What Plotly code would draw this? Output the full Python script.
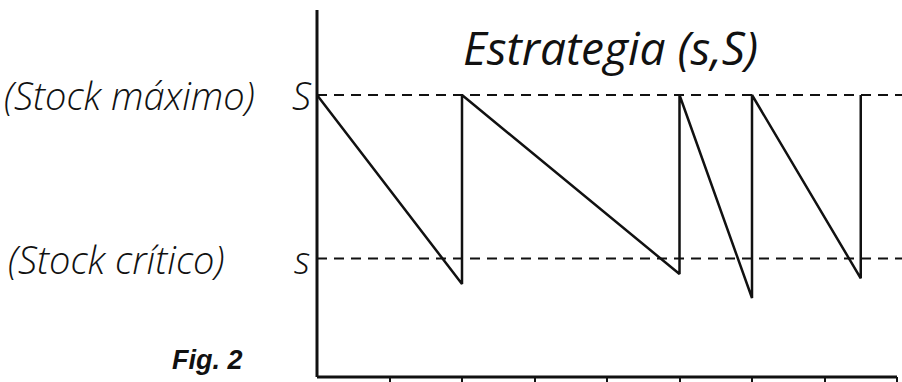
import plotly.graph_objects as go

# Data (time units vs. stock level; S = 100)
time_points = [0, 2, 2, 5, 5, 6, 6, 7.5, 7.5]
stock_levels = [100, 33, 100, 36.5, 100, 28, 100, 35, 100]
S_level = 100
s_level = 42
tick_positions = [0, 1, 2, 3, 4, 5, 6, 7, 8]
title_text = "Estrategia (s,S)"
label_max = "(Stock máximo)"
label_crit = "(Stock crítico)"
fig_label = "Fig. 2"

W, H = 902, 382
x0_px, x8_px = 317, 897
px_per_x = (x8_px - x0_px) / 8
y0_px, yS_px = 377, 95
px_per_y = (y0_px - yS_px) / S_level

x_range = [-x0_px / px_per_x, (W - x0_px) / px_per_x]
y_range = [-(H - y0_px) / px_per_y, y0_px / px_per_y]
y_top = (y0_px - 10) / px_per_y

fig = go.Figure()
fig.add_trace(go.Scatter(x=time_points, y=stock_levels, mode="lines",
                         line=dict(color="#111", width=2.5), showlegend=False,
                         hoverinfo="skip"))

# dashed reference lines
for lvl in [S_level, s_level]:
    fig.add_shape(type="line", xref="x", yref="y", x0=0, x1=x_range[1],
                  y0=lvl, y1=lvl, line=dict(color="#111", width=2, dash="10px,7px"))
# axes lines
fig.add_shape(type="line", xref="x", yref="y", x0=0, x1=tick_positions[-1], y0=0, y1=0,
              line=dict(color="#111", width=3))
fig.add_shape(type="line", xref="x", yref="y", x0=0, x1=0, y0=0, y1=y_top,
              line=dict(color="#111", width=3))

fig.update_xaxes(range=x_range, showgrid=False, zeroline=False, showline=False,
                 tickvals=tick_positions[1:], ticks="inside", ticklen=5, tickwidth=2,
                 tickcolor="#111", showticklabels=False, domain=[0, 1])
fig.update_yaxes(range=y_range, showgrid=False, zeroline=False, showline=False,
                 showticklabels=False, ticks="", domain=[0, 1])

font_main = "Open Sans, Noto Sans, sans-serif"
anns = [
    dict(text=f"<i>{title_text}</i>", x=610 / W, y=(y0_px - 47) / px_per_y,
         xanchor="center", size=46, weight=400),
    dict(text=f"<i>{label_max}</i>", x=2 / W, y=S_level, xanchor="left", size=38, weight=300),
    dict(text="<i>S</i>", x=314 / W, y=S_level, xanchor="right", size=38, weight=300),
    dict(text=f"<i>{label_crit}</i>", x=6 / W, y=s_level, xanchor="left", size=38, weight=300),
    dict(text="<i>s</i>", x=312 / W, y=s_level, xanchor="right", size=38, weight=300),
]
for a in anns:
    fig.add_annotation(text=a["text"], x=a["x"], y=a["y"], xref="paper", yref="y",
                       xanchor=a["xanchor"], yanchor="middle", showarrow=False,
                       font=dict(family=font_main, size=a["size"], color="#111",
                                 weight=a["weight"]))
fig.add_annotation(text=f"<b><i>{fig_label}</i></b>", x=170 / W, y=(y0_px - 360) / px_per_y,
                   xref="paper", yref="y", xanchor="left", yanchor="middle", showarrow=False,
                   font=dict(family="Liberation Sans, Arial, sans-serif", size=27, color="#111"))

fig.update_layout(width=W, height=H, margin=dict(l=0, r=0, t=0, b=0),
                  paper_bgcolor="white", plot_bgcolor="white")
fig.write_html("out.html", config={"displayModeBar": False},
               post_script="document.body.style.margin='0';")
